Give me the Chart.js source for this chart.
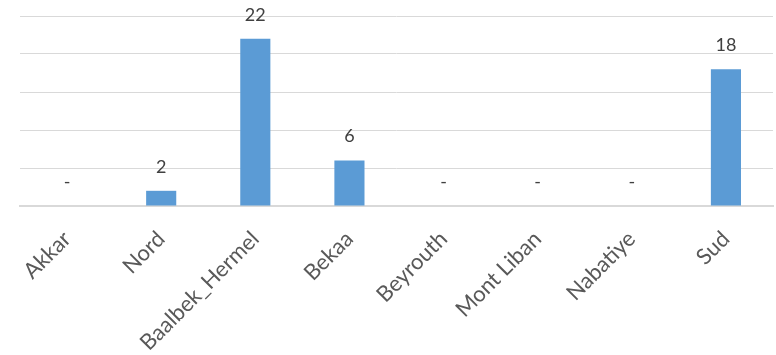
<!DOCTYPE html>
<html>
<head>
<meta charset="utf-8">
<script src="https://cdn.jsdelivr.net/npm/chart.js@4/dist/chart.umd.min.js"></script>
<style>
  html, body { margin: 0; padding: 0; background: #ffffff; }
  #wrap { width: 776px; height: 355px; position: relative; }
</style>
</head>
<body>
<div id="wrap"><canvas id="c"></canvas></div>
<script>
const categories = ["Akkar", "Nord", "Baalbek_Hermel", "Bekaa", "Beyrouth", "Mont Liban", "Nabatiye", "Sud"];
const values = [0, 2, 22, 6, 0, 0, 0, 18];
const yTicks = [0, 5, 10, 15, 20, 25];

const FONT = "Lato, 'Open Sans', 'DejaVu Sans', sans-serif";

const dataLabelPlugin = {
  id: 'dataLabels',
  afterDatasetsDraw(chart) {
    const ctx = chart.ctx;
    const meta = chart.getDatasetMeta(0);
    ctx.save();
    ctx.font = "18px " + FONT;
    ctx.fillStyle = "#404040";
    ctx.textAlign = "center";
    ctx.textBaseline = "alphabetic";
    meta.data.forEach((bar, i) => {
      const v = values[i];
      const txt = v === 0 ? "-" : String(v);
      ctx.fillText(txt, bar.x, bar.y - 18);
    });
    ctx.restore();
  }
};

new Chart(document.getElementById('c'), {
  type: 'bar',
  data: {
    labels: categories,
    datasets: [{
      data: values,
      backgroundColor: '#5B9BD5',
      borderWidth: 0,
      barPercentage: 0.32,
      categoryPercentage: 1.0
    }]
  },
  options: {
    responsive: true,
    maintainAspectRatio: false,
    animation: false,
    layout: { padding: { left: 0, right: 3, top: 16, bottom: 0 } },
    plugins: { legend: { display: false }, tooltip: { enabled: false } },
    scales: {
      x: {
        grid: { display: false },
        border: { display: true, color: '#d9d9d9', width: 2 },
        ticks: {
          color: '#595959',
          font: { family: FONT, size: 22 },
          minRotation: 45,
          maxRotation: 45,
          autoSkip: false,
          padding: 12
        },
        afterFit(scale) { scale.height = 149; }
      },
      y: {
        min: 0,
        max: 25,
        afterBuildTicks(scale) { scale.ticks = yTicks.map(v => ({ value: v })); },
        ticks: { display: false },
        grid: { color: '#d9d9d9', lineWidth: 1, drawTicks: false },
        border: { display: false },
        afterFit(scale) { scale.width = 20; }
      }
    }
  },
  plugins: [dataLabelPlugin]
});
</script>
</body>
</html>
